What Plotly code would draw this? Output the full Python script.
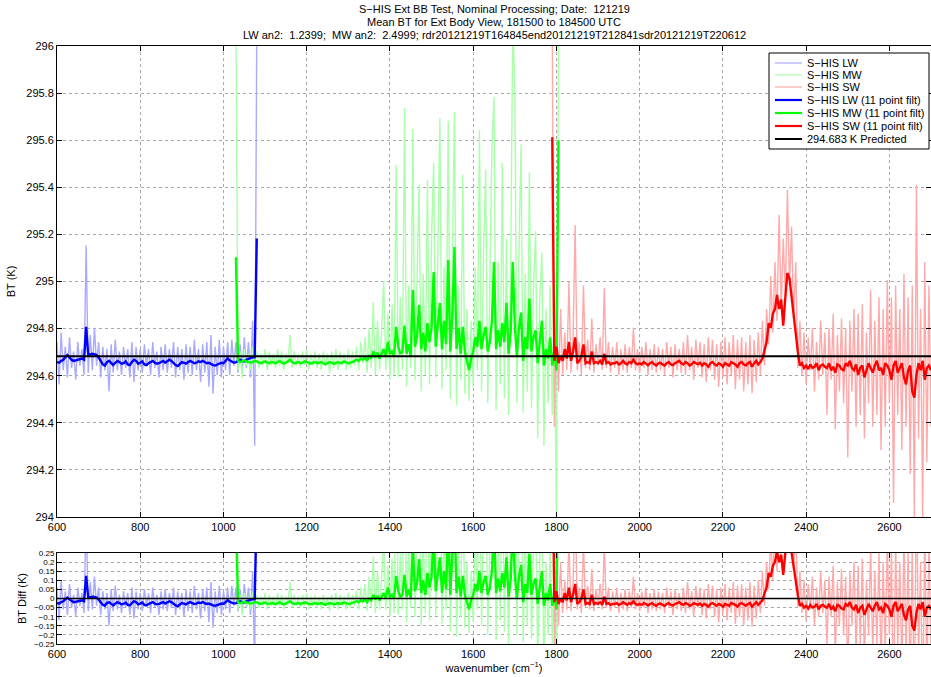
import plotly.graph_objects as go

PRED = 294.683
STEP = 5

# LW: 600..1080 cm-1 (step 5); values are BT minus prediction in mK
lw_start = 600
lw_raw_mk = [
    60, -120, 100, -60, 40, -90, 80, -50, 20, -100,
    60, -40, 30, -80, 470, -70, 90, -60, 120, -40,
    60, -90, 40, -60, 30, -150, 50, -70, 70, -60,
    20, -80, 40, -50, 30, -90, 60, -110, 40, -60,
    30, -70, 50, -40, 30, -80, 60, -50, 20, -90,
    40, -60, 50, -70, 30, -50, 60, -90, 40, -60,
    30, -100, 50, -70, 40, -80, 70, -60, 30, -110,
    50, -70, 60, -130, 90, -160, 40, -80, 70, -90,
    40, -60, 60, -80, 70, -40, 60, -70, 50, -60,
    80, -50, 60, -90, 150, -380, 1400,
]
lw_filt_mk = [
    -25, -28, -20, -15, -5, 5, -5, -15, -20, -18,
    -15, -12, -10, -15, 125, 5, 8, 10, 8, 5,
    -5, -20, -35, -40, -25, -20, -30, -38, -28, -20,
    -25, -32, -30, -22, -35, -38, -25, -15, -20, -32,
    -28, -22, -35, -38, -30, -25, -20, -28, -32, -30,
    -25, -20, -28, -22, -15, -20, -30, -38, -42, -35,
    -25, -28, -32, -25, -20, -25, -30, -28, -22, -25,
    -20, -25, -30, -28, -35, -38, -40, -35, -30, -28,
    -30, -20, -10, -18, -25, -28, -25, -18, -15, -20,
    -22, -15, -10, -8, -5, -5, 500,
]

# MW: 1030..1805 cm-1 (step 5)
mw_start = 1030
mw_raw_mk = [
    1400, -60, 20, -90, 30, -40, 10, -60, 40, -30,
    20, -50, 10, -40, 30, -60, 20, -40, 10, -50,
    30, -40, 20, -60, 10, -30, 90, -50, 20, -40,
    10, -50, 20, -40, 30, -60, 10, -40, 20, -50,
    10, -60, 20, -40, 10, -70, 20, -50, 30, -60,
    20, -40, 10, -60, 30, -50, 20, -40, 40, -60,
    60, -30, 80, -70, 120, -50, 230, -80, 150, -60,
    110, 320, -60, 180, -100, 220, -80, 812, -90, 250,
    -60, 1054, -130, 300, -50, 964, -100, 400, 727, -150,
    350, -80, 748, -120, 500, 820, -90, 420, 1011, -140,
    380, -60, 1000, -180, 450, 1037, -210, 300, -100, 770,
    -160, 200, -190, 150, -130, 380, -60, 960, -150, 450,
    790, -200, 300, 880, 1100, -230, 400, -120, 820, -180,
    500, -250, 350, 1400, 1140, -200, 450, 900, -240, 350,
    -150, 780, -220, 300, 530, -350, 250, 440, -380, 200,
    -200, 300, -250, 200, -690, 1400,
]
mw_filt_mk = [
    420, -20, -25, -20, -18, -22, -25, -28, -25, -20,
    -22, -28, -30, -25, -22, -28, -30, -25, -28, -30,
    -25, -20, -28, -32, -28, -22, -15, -25, -30, -28,
    -25, -30, -28, -22, -25, -30, -32, -28, -25, -30,
    -28, -25, -30, -35, -30, -25, -28, -32, -30, -25,
    -30, -28, -22, -25, -30, -28, -25, -20, -15, -20,
    -10, -15, -5, -20, 0, -10, 20, -5, 15, -10,
    10, 30, 0, 60, 10, 20, 0, 124, 40, 10,
    20, 130, 10, 50, 0, 281, 40, 80, 217, 30,
    100, 20, 140, 60, 120, 357, 40, 150, 226, 30,
    150, 50, 408, 20, 170, 463, 30, 120, 10, 124,
    20, -20, -59, -10, 20, 80, 40, 150, 30, 90,
    124, 20, 60, 150, 400, 30, 110, 40, 140, 60,
    226, 10, 100, 400, 130, 0, 120, 185, -20, 80,
    30, 245, 20, 80, 110, -30, 50, 150, -40, 30,
    -10, 80, -40, 20, -60, 917,
]

# SW: 1790..2700 cm-1 (step 5)
sw_start = 1790
sw_raw_mk = [
    1400, -300, 150, -150, 200, -80, 100, -60, 315, -70,
    80, 557, -60, 60, -80, 300, -50, 70, -60, 160,
    -70, 50, -40, 80, -60, 290, -50, 60, -70, 40,
    -50, 60, -80, 30, -60, 50, -70, 40, -50, 120,
    -60, 30,
    -70, 40, -50, 60, -80, 30, -60, 50, -70, 40,
    -60, 30, -80, 60, -50, 40, -90, 50, -60, 30,
    -70, 60, -80, 90, -60, 40, -100, 70, -50, 60,
    -90, 50, -110, 80, -60, 70, -100, 50, -130, 60,
    -90, 80, -120, 60, -80, 90, -140, 70, -100, 80,
    -150, 60, -120, 90, -157, 70, -110, 100, -80, 150,
    -40, 200, 50, 340, 100, 400, 150, 600, 200, 500,
    250, 706, 300, 550, 150, 400, -50, 150, -80, 100,
    -120, 80, -60, 120, -150, 60, -100, 150, -80, 100,
    -250, 120, -100, 180, -310, 90, -150, 160, -200, 120,
    -430, 150, -150, 200, -300, 180, -250, 220, -350, 100,
    -200, 280, -300, 150, -250, 250, -400, 200, -300, 323,
    -200, 250, -623, 300, -250, 200, -400, 350, -300, 250,
    -500, 300, -683, 727, -350, 200, -683, 400, -450, 300,
    -300,
]
sw_filt_mk = [
    930, -20, 40, -30, 0, -20, 30, -10, 60, -20,
    20, 80, -30, -20, 0, 50, -30, -25, -30, 20,
    -30, -25, -30, -20, -35, 10, -30, -25, -35, -30,
    -30, -25, -35, -30, -20, -30, -35, -25, -30, -15,
    -30, -35,
    -30, -35, -25, -30, -38, -30, -25, -35, -40, -30,
    -28, -35, -40, -30, -25, -35, -38, -30, -25, -20,
    -30, -35, -25, -30, -40, -35, -25, -30, -35, -28,
    -40, -30, -35, -45, -30, -25, -35, -40, -30, -35,
    -45, -30, -35, -40, -25, -30, -35, -45, -30, -25,
    -35, -40, -30, -25, -45, -30, -20, -35, -25, -10,
    30, 60, 140, 120, 180, 200, 260, 200, 240, 130,
    250, 353, 330, 250, 180, 110, 20, -40, -30, -50,
    -40, -55, -35, -50, -45, -30, -60, -40, -35, -45,
    -50, -30, -60, -45, -70, -35, -40, -55, -60, -30,
    -40, -20, -50, -60, -35, -80, -50, -40, -90, -60,
    -30, -50, -70, -40, -20, -60, -50, -80, -30, -40,
    -60, -100, -40, -20, -70, -50, -30, -90, -120, -60,
    -40, -150, -176, -80, -30, -60, -20, -100, -50, -40,
    -60,
]

x_range = [600, 2700]
x_ticks = [600, 800, 1000, 1200, 1400, 1600, 1800, 2000, 2200, 2400, 2600]
y_ticks_top = [294, 294.2, 294.4, 294.6, 294.8, 295, 295.2, 295.4, 295.6, 295.8, 296]
y_ticks_bot = [-0.25, -0.2, -0.15, -0.1, -0.05, 0, 0.05, 0.1, 0.15, 0.2, 0.25]
y_ticktext_bot = ["\u22120.25", "\u22120.2", "\u22120.15", "\u22120.1", "\u22120.05", "0",
                  "0.05", "0.1", "0.15", "0.2", "0.25"]


def wn(start, n):
    return [start + STEP * i for i in range(n)]


bands = [
    ("LW", lw_start, lw_raw_mk, lw_filt_mk, "#aaaaff", "#0000ff"),
    ("MW", mw_start, mw_raw_mk, mw_filt_mk, "#aaffaa", "#00ff00"),
    ("SW", sw_start, sw_raw_mk, sw_filt_mk, "#ffaaaa", "#ff0000"),
]

RAW_W, FILT_W = 1.4, 2.4

fig = go.Figure()
legend_items = []

for name, start, raw, filt, lc, dc in bands:
    fig.add_trace(go.Scatter(x=wn(start, len(raw)), y=[PRED + v / 1000 for v in raw],
                             mode="lines", line=dict(color=lc, width=RAW_W),
                             showlegend=False, xaxis="x", yaxis="y"))
    legend_items.append(("S\u2212HIS " + name, lc, 1.2))
for name, start, raw, filt, lc, dc in bands:
    fig.add_trace(go.Scatter(x=wn(start, len(filt)), y=[PRED + v / 1000 for v in filt],
                             mode="lines", line=dict(color=dc, width=FILT_W),
                             showlegend=False, xaxis="x", yaxis="y"))
    legend_items.append(("S\u2212HIS " + name + " (11 point filt)", dc, 2.2))
fig.add_trace(go.Scatter(x=x_range, y=[PRED, PRED], mode="lines",
                         line=dict(color="black", width=2), showlegend=False,
                         xaxis="x", yaxis="y"))
legend_items.append(("%.3f K Predicted" % PRED, "black", 2))

for name, start, raw, filt, lc, dc in bands:
    fig.add_trace(go.Scatter(x=wn(start, len(raw)), y=[v / 1000 for v in raw], mode="lines",
                             line=dict(color=lc, width=RAW_W), showlegend=False,
                             xaxis="x2", yaxis="y2"))
for name, start, raw, filt, lc, dc in bands:
    fig.add_trace(go.Scatter(x=wn(start, len(filt)), y=[v / 1000 for v in filt], mode="lines",
                             line=dict(color=dc, width=FILT_W), showlegend=False,
                             xaxis="x2", yaxis="y2"))
fig.add_trace(go.Scatter(x=x_range, y=[0, 0], mode="lines",
                         line=dict(color="black", width=1.5), showlegend=False,
                         xaxis="x2", yaxis="y2"))

FONT = "Liberation Sans, Arial, Helvetica, sans-serif"
W, H = 931, 677
ML, MR, MT, MB = 57, 0, 46, 33
PW, PH = W - ML - MR, H - MT - MB


def px_x(p):
    return (p - ML) / PW


def px_y(p):
    return (H - MB - p) / PH


axis_common = dict(showline=True, linecolor="black", linewidth=1, mirror="allticks",
                   ticks="inside", ticklen=5, tickcolor="black", showgrid=True,
                   gridcolor="#a8a8a8", griddash="dot", gridwidth=1, zeroline=False,
                   automargin=False,
                   tickfont=dict(size=11, color="black", family=FONT))

fig.update_layout(
    width=W, height=H,
    margin=dict(l=ML, r=MR, t=MT, b=MB),
    paper_bgcolor="white", plot_bgcolor="white",
    font=dict(family=FONT, size=11, color="black"),
    showlegend=False,
    xaxis=dict(domain=[0, 1], range=x_range, tickvals=x_ticks, anchor="y", **axis_common),
    yaxis=dict(domain=[px_y(517), 1], range=[294, 296], tickvals=y_ticks_top, anchor="x",
               title=dict(text="BT (K)", font=dict(size=11), standoff=8), **axis_common),
    xaxis2=dict(domain=[0, 1], range=x_range, tickvals=x_ticks, anchor="y2",
                title=dict(text="wavenumber (cm<sup>\u22121</sup>)", font=dict(size=11), standoff=3),
                **axis_common),
    yaxis2=dict(domain=[0, px_y(553)], range=[-0.25, 0.25], tickvals=y_ticks_bot,
                ticktext=y_ticktext_bot, anchor="x2",
                title=dict(text="BT Diff (K)", font=dict(size=11), standoff=5), **axis_common),
)
fig.update_layout(yaxis2_tickfont=dict(size=8, family=FONT, color="black"))

# legend box drawn as layout decoration
shapes = [dict(type="rect", xref="paper", yref="paper", x0=px_x(769), x1=px_x(929),
               y0=px_y(149), y1=px_y(53), line=dict(color="black", width=1),
               fillcolor="white", layer="above")]
annotations = []
row_y = [63, 75, 87, 100, 113, 126, 139]
for (label, color, lw), ry in zip(legend_items, row_y):
    shapes.append(dict(type="line", xref="paper", yref="paper", x0=px_x(775), x1=px_x(802),
                       y0=px_y(ry), y1=px_y(ry), line=dict(color=color, width=lw), layer="above"))
    annotations.append(dict(text=label, x=px_x(805), y=px_y(ry), xref="paper", yref="paper",
                            showarrow=False, xanchor="left", yanchor="middle",
                            font=dict(size=11, family=FONT, color="black")))

titles = [
    ("S\u2212HIS Ext BB Test, Nominal Processing; Date:  121219", 9),
    ("Mean BT for Ext Body View, 181500 to 184500 UTC", 22),
    ("LW an2:  1.2399;  MW an2:  2.4999; rdr20121219T164845end20121219T212841sdr20121219T220612", 35),
]
for text, yy in titles:
    annotations.append(dict(text=text, x=0.5, y=px_y(yy), xref="paper", yref="paper",
                            showarrow=False, xanchor="center", yanchor="middle",
                            font=dict(size=11, family=FONT, color="black")))
fig.update_layout(shapes=shapes, annotations=annotations)

fig.write_html("out.html", config={"displayModeBar": False},
               post_script="document.body.style.margin='0';document.body.style.overflow='hidden';")
